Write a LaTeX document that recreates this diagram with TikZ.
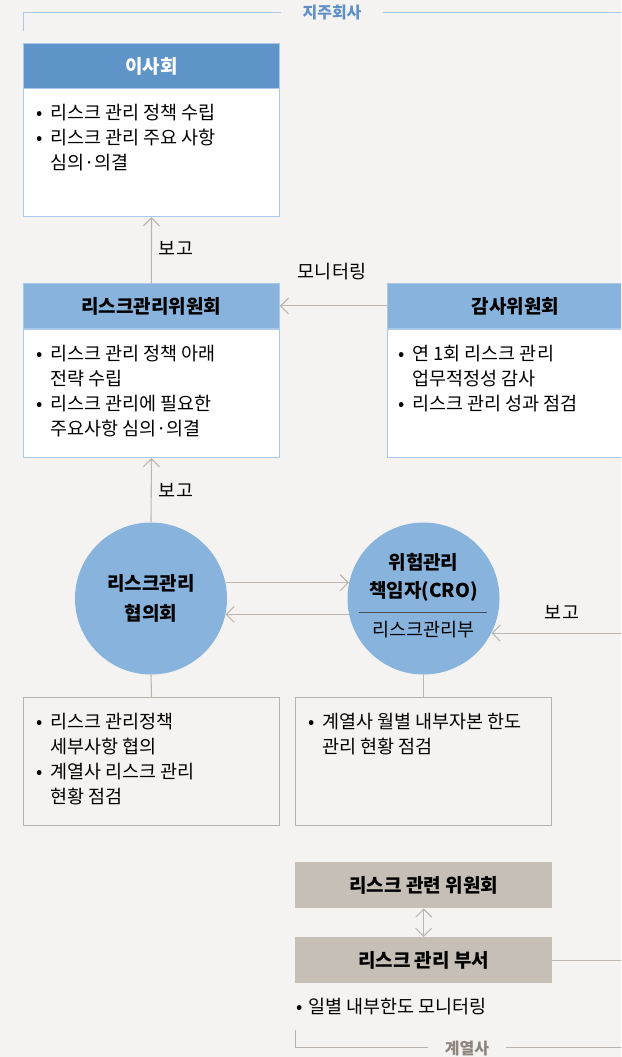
\documentclass[tikz,border=0pt]{standalone}
\usepackage{fontspec}
\setmainfont{Noto Sans CJK KR}
\usetikzlibrary{arrows.meta}
\definecolor{bgc}{HTML}{F4F3F1}
\definecolor{dblue}{HTML}{5F94C8}
\definecolor{lblue}{HTML}{88B3DD}
\definecolor{bbord}{HTML}{A9C9EA}
\definecolor{connc}{HTML}{BDB5AE}
\definecolor{gbord}{HTML}{B9B1AB}
\definecolor{beige}{HTML}{C6BFB6}
\definecolor{holdc}{HTML}{5F90C6}
\definecolor{affc}{HTML}{8E857E}
\definecolor{sepc}{HTML}{4A4F55}
\newcommand{\bl}{\makebox[14pt][l]{•}}
\newcommand{\blb}{\makebox[12pt][l]{•}}
\newcommand{\ind}{\hspace*{14pt}}
\newcommand{\fst}{\rule{0pt}{17.5pt}}
\begin{document}
\begin{tikzpicture}[x=1pt,y=-1pt,
  box/.style={rectangle, anchor=north west, inner sep=0pt, minimum width=256pt},
  hdr/.style={box, minimum height=45pt, draw=bbord, line width=0.8pt, font=\fontsize{19}{22}\selectfont\bfseries},
  bodybox/.style={box, draw=bbord, fill=white, line width=1pt, minimum height=128pt},
  greybox/.style={box, draw=gbord, line width=1pt, minimum height=128pt},
  beigebox/.style={box, fill=beige, minimum width=257pt, minimum height=46pt, font=\fontsize{19}{22}\selectfont\bfseries},
  txt/.style={anchor=north west, inner sep=0pt, align=left, font=\fontsize{18.5}{25}\selectfont},
  lbl/.style={inner sep=0pt, font=\fontsize{18.5}{22}\selectfont},
  conn/.style={draw=connc, line width=1.1pt},
  arr/.style={conn, -{Straight Barb[length=8pt,width=16pt]}},
  darr/.style={conn, {Straight Barb[length=8pt,width=16pt]}-{Straight Barb[length=8pt,width=16pt]}},
  circ/.style={circle, fill=lblue, minimum size=152pt, inner sep=0pt},
]
\useasboundingbox (0,0) rectangle (621,1057);
\fill[bgc] (0,0) rectangle (621,1057);
\coordinate (er) at (650,0);
\begin{scope}
\clip (0,0) rectangle (621,1057);

% group label top
\node[inner xsep=21pt, inner ysep=0pt, text=holdc, font=\fontsize{16}{19}\selectfont\bfseries] (hl) at (332,13) {지주회사};
\draw[draw=bbord, line width=1pt] (23,31) -- (23,13) -- (hl.west);
\draw[draw=bbord, line width=1pt] (hl.east) -- (er |- hl.east);

% board
\node[bodybox] (bb) at (23,88) {};
\node[hdr, fill=dblue, text=white] (bh) at (23,43) {이사회};
\node[txt] (bt) at (36,101.5) {\fst\bl 리스크 관리 정책 수립\\\bl 리스크 관리 주요 사항\\\ind 심의·의결};

% risk management committee
\node[bodybox] (rb) at (23,329) {};
\node[hdr, fill=lblue] (rh) at (23,283) {리스크관리위원회};
\node[txt] (rt) at (36,342.5) {\fst\bl 리스크 관리 정책 아래\\\ind 전략 수립\\\bl 리스크 관리에 필요한\\\ind 주요사항 심의·의결};

% audit committee
\node[bodybox] (ab) at (387,329) {};
\node[hdr, fill=lblue] (ah) at (387,283) {감사위원회};
\node[txt] (at) at (398,342.5) {\fst\bl 연 1회 리스크 관리\\\ind 업무적정성 감사\\\bl 리스크 관리 성과 점검};

% circles
\node[circ] (c1) at (151,598.5) {};
\node[circ] (c2) at (423.5,598.5) {};
\node[align=center, inner sep=0pt, font=\fontsize{19}{30}\selectfont\bfseries] (c1t) at (151,598) {리스크관리\\협의회};
\node[align=center, inner sep=0pt, font=\fontsize{19}{28}\selectfont\bfseries] (c2t) at (423.5,577) {위험관리\\책임자(CRO)};
\draw[draw=sepc, line width=1pt] (359,612) -- (487,612);
\node[lbl] (c2s) at (423.5,630) {리스크관리부};

% lower boxes
\node[greybox] (lb) at (23,697) {};
\node[txt] (lt) at (36,710.5) {\fst\bl 리스크 관리정책\\\ind 세부사항 협의\\\bl 계열사 리스크 관리\\\ind 현황 점검};
\node[greybox] (rbx) at (295,697) {};
\node[txt] (rtx) at (308,710.5) {\fst\bl 계열사 월별 내부자본 한도\\\ind 관리 현황 점검};

% affiliate
\node[beigebox] (k1) at (295,862) {리스크 관련 위원회};
\node[beigebox] (k2) at (295,937) {리스크 관리 부서};
\node[lbl, anchor=west] (kt) at (296,1007) {\blb 일별 내부한도 모니터링};
\node[inner xsep=17pt, inner ysep=0pt, text=affc, font=\fontsize{16}{19}\selectfont\bfseries] (al) at (467,1048) {계열사};
\draw[draw=gbord, line width=1pt] (295,1030) -- (295,1047) -- (al.west |- 0,1047);
\draw[draw=gbord, line width=1pt] (al.east |- 0,1047) -- (er |- 0,1047);

% connectors
\draw[arr] (rh.north) -- (bb.south);
\node[lbl] (r1) at (176,248) {보고};
\draw[arr] (ah.west) -- (rh.east);
\node[lbl] (m1) at (332,272) {모니터링};
\draw[arr] (c1.north) -- (rb.south);
\node[lbl] (r2) at (176,490) {보고};
\draw[arr] (c1.12) -- (c2.168);
\draw[arr] (c2.-168) -- (c1.-12);
\draw[arr] (c2.-27 -| er) -- (c2.-27);
\node[lbl] (r3) at (562,612) {보고};
\draw[conn] (c1.south) -- (lb.north);
\draw[conn] (c2.south) -- (rbx.north);
\draw[darr] (k1.south) -- (k2.north);
\draw[conn] (k2.east) -- (k2.east -| er);
\end{scope}
\end{tikzpicture}
\end{document}
